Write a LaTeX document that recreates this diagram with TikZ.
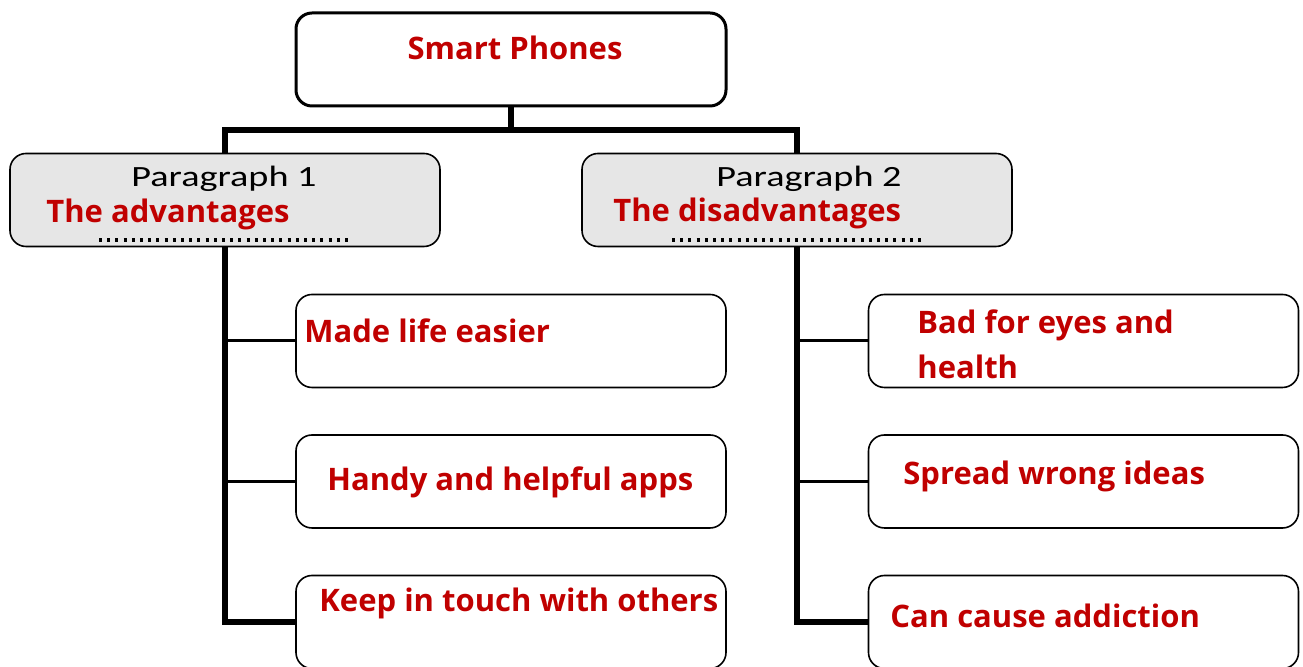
\documentclass[tikz,border=0pt]{standalone}
\usepackage{fontspec}
\setmainfont{Open Sans}
\newfontfamily\redfont{Open Sans Bold}
\newfontfamily\parafont[FakeStretch=1.3]{Carlito}
\definecolor{myred}{HTML}{C00000}
\definecolor{mygray}{HTML}{E6E6E6}
\begin{document}
\begin{tikzpicture}[x=0.5pt,y=-0.5pt,
  box/.style={draw=black,line width=0.8pt,rounded corners=8pt,minimum width=215pt,minimum height=46.5pt,inner sep=0pt},
  topbox/.style={box,line width=1.5pt},
  parabox/.style={box,fill=mygray},
  redtxt/.style={text=myred,font=\redfont\fontsize{15.5}{18}\selectfont,inner sep=0pt},
  paratxt/.style={text=black,font=\parafont\fontsize{14.7}{16}\selectfont,inner sep=0pt},
  trunk/.style={line width=2.6pt},
  branch/.style={line width=1.5pt},
  dotline/.style={line width=1.6pt,dash pattern=on 1.5pt off 2.6pt}]
\useasboundingbox (0,0) rectangle (1303,667);
\clip (0,0) rectangle (1303,667);
% boxes
\node[topbox] (top) at (511,59.5) {};
\node[parabox] (p1) at (225,200) {};
\node[parabox] (p2) at (797,200) {};
\node[box] (l1) at (511,341) {};
\node[box] (l2) at (511,481.5) {};
\node[box] (l3) at (511,622) {};
\node[box] (r1) at (1083.5,341) {};
\node[box] (r2) at (1083.5,481.5) {};
\node[box] (r3) at (1083.5,622) {};
% connectors
\coordinate (bar) at (511,130);
\draw[trunk] (top.south) -- (bar) -| (p1.north);
\draw[trunk] (bar) -| (p2.north);
\draw[trunk] (p1.south) |- (l3.west);
\draw[trunk] (p2.south) |- (r3.west);
\draw[branch] (p1.south |- l1.west) -- (l1.west);
\draw[branch] (p1.south |- l2.west) -- (l2.west);
\draw[branch] (p2.south |- r1.west) -- (r1.west);
\draw[branch] (p2.south |- r2.west) -- (r2.west);
% texts
\node[redtxt,anchor=base] (tt) at (515,60) {Smart Phones};
\node[paratxt,anchor=base] (pa1) at (224,187) {Paragraph 1};
\node[paratxt,anchor=base] (pa2) at (809,187) {Paragraph 2};
\node[redtxt,anchor=base west] (adv) at (46,223) {The advantages};
\node[redtxt,anchor=base west] (dis) at (613,222) {The disadvantages};
\coordinate (d1a) at (99,240); \coordinate (d1b) at (350,240);
\coordinate (d2a) at (672,240); \coordinate (d2b) at (923,240);
\draw[dotline] (d1a) -- (d1b);
\draw[dotline] (d2a) -- (d2b);
\node[redtxt,anchor=base west] (t1) at (304,343) {Made life easier};
\node[redtxt,anchor=base west] (t2) at (327,491) {Handy and helpful apps};
\node[redtxt,anchor=base west] (t3) at (319,612) {Keep in touch with others};
\node[redtxt,anchor=base west] (t4) at (917,334) {Bad for eyes and};
\node[redtxt,anchor=base west] (t4b) at (917,379) {health};
\node[redtxt,anchor=base west] (t5) at (903,485) {Spread wrong ideas};
\node[redtxt,anchor=base west] (t6) at (890,628) {Can cause addiction};
\end{tikzpicture}
\end{document}
